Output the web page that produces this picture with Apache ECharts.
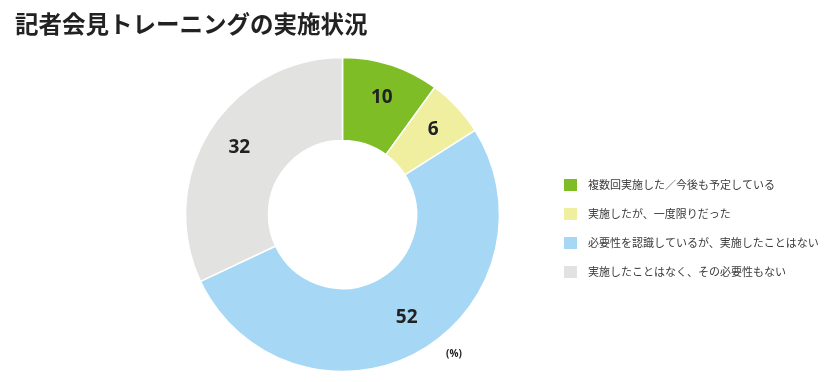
<!DOCTYPE html>
<html><head><meta charset="utf-8">
<script src="https://cdn.jsdelivr.net/npm/echarts@6/dist/echarts.min.js"></script>
<style>html,body{margin:0;padding:0;background:#fff}#c{width:832px;height:382px}</style>
</head><body><div id="c"></div>
<script>
const categories = ['複数回実施した／今後も予定している','実施したが、一度限りだった','必要性を認識しているが、実施したことはない','実施したことはなく、その必要性もない'];
const values = [10, 6, 52, 32];
const colors = ['#7ebd26','#f0ee9f','#a6d8f5','#e2e2e1'];
const title = '記者会見トレーニングの実施状況';
const unitLabel = '(%)';

const data = categories.map((n,i)=>({name:n, value:values[i], itemStyle:{color:colors[i]}}));
const labelNudge = [[0,4],[-2,2],[3,-8],[4,1]];
const chart = echarts.init(document.getElementById('c'));
chart.setOption({
  animation:false,
  title:{text:title,left:10,top:7,textStyle:{fontFamily:'Noto Sans CJK JP',fontSize:23.5,fontWeight:'bold',color:'#222'}},
  legend:{orient:'vertical',left:557,top:172,itemWidth:15,itemHeight:14,itemGap:13,icon:'rect',
    textStyle:{fontFamily:'Noto Sans CJK JP',fontSize:11,color:'#3a3a3a',padding:[0,0,0,5]},data:categories},
  graphic:[{type:'text',left:446,top:349,style:{text:unitLabel,font:'bold 10px "Open Sans", sans-serif',fill:'#222'}}],
  series:[
    {type:'pie',center:[342.5,214.5],radius:[74,157],startAngle:90,clockwise:true,
     itemStyle:{borderColor:'#fff',borderWidth:1.5},label:{show:false},labelLine:{show:false},data:data,silent:true},
    {type:'pie',center:[342.5,214.5],radius:[91,157],startAngle:90,clockwise:true,silent:true,
     itemStyle:{color:'transparent'},
     label:{show:true,position:'inside',formatter:'{c}',fontFamily:'Open Sans',fontWeight:'bold',fontSize:19,color:'#222'},
     labelLine:{show:false},
     data:categories.map((n,i)=>({name:n+' ',value:values[i],label:{offset:labelNudge[i]}}))}
  ]
});
</script></body></html>
